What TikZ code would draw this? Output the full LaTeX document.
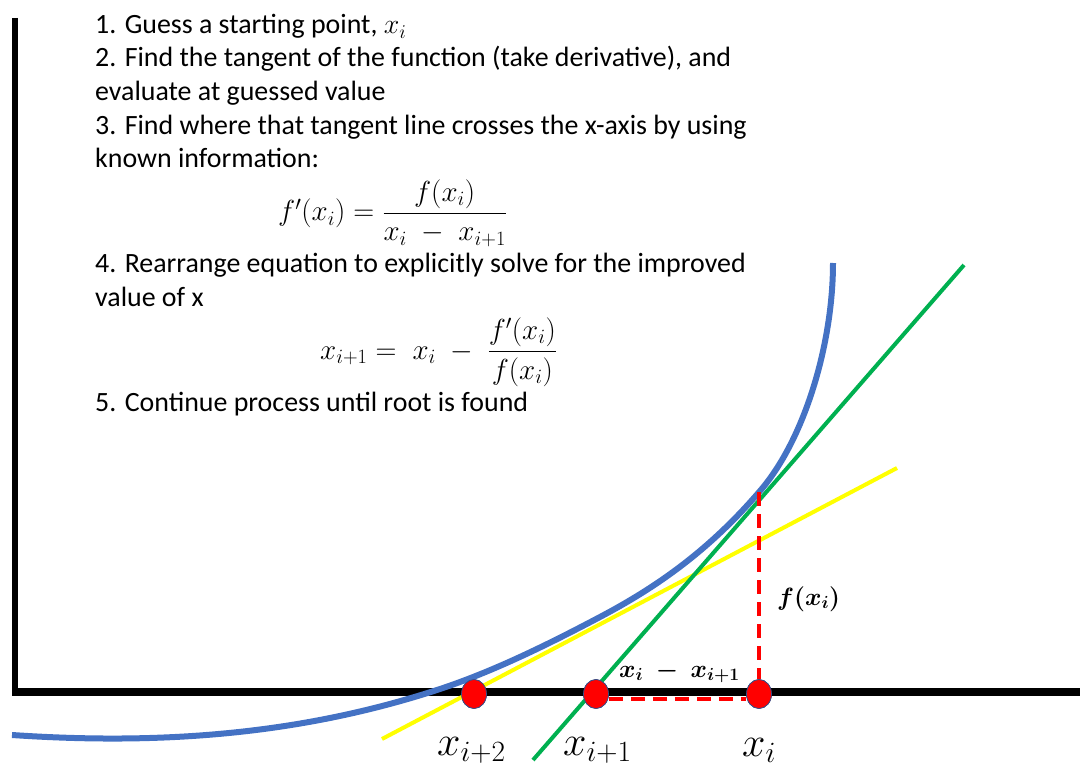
\RequirePackage{fix-cm}
\documentclass[tikz,border=0pt]{standalone}
\usepackage{fontspec}
\setmainfont{Carlito}
\usepackage{amsmath,bm}
\usetikzlibrary{shapes.geometric}
\definecolor{curveblue}{HTML}{4472C4}
\definecolor{tangreen}{HTML}{00B050}
\definecolor{tanyellow}{HTML}{FFFF00}
\definecolor{dotred}{HTML}{FF0000}
\definecolor{dotrim}{HTML}{2F528F}
\begin{document}
\begin{tikzpicture}[x=1pt,y=-1pt,
  txt/.style={anchor=base west, inner sep=0pt, font=\fontsize{27.9}{33}\selectfont},
  eqn/.style={anchor=west, inner sep=0pt, font=\fontsize{29}{35}\selectfont},
  biglbl/.style={anchor=base west, inner sep=0pt, font=\fontsize{42}{50}\selectfont},
  boldlbl/.style={anchor=base west, inner sep=0pt, font=\fontsize{25}{30}\selectfont},
  axisline/.style={draw=black, line width=#1},
  curveline/.style={draw=curveblue, line width=6pt},
  greenline/.style={draw=tangreen, line width=4pt},
  yellowline/.style={draw=tanyellow, line width=4pt},
  reddash/.style={draw=dotred, line width=4.5pt, dash pattern=on 14pt off 8pt},
  rootdot/.style={ellipse, fill=dotred, draw=dotrim, line width=0.7pt, minimum width=25pt, minimum height=29pt, inner sep=0pt}
]
\useasboundingbox (0,0) rectangle (1080,770);

% nodes (dots)
\node[rootdot] (d2) at (474,694) {};
\node[rootdot] (d1) at (596,694) {};
\node[rootdot] (d0) at (759,694) {};

% red dashed horizontal (under axis)
\draw[reddash] ([yshift=-5pt]d1.east) -- ([yshift=-5pt]d0.west);

% axes
\coordinate (vtop) at (15,18);
\coordinate (vbot) at (15,696);
\coordinate (hleft) at (12,692);
\coordinate (hright) at (1080,692);
\draw[axisline=6pt] (vtop) -- (vbot);
\draw[axisline=8pt] (hleft) -- (hright);

% blue curve
\coordinate (c0) at (12,735);
\coordinate (c1) at (440,689);
\coordinate (c2) at (600,617);
\coordinate (c3) at (760,491);
\coordinate (c4) at (833,263);
\draw[curveline] (c0) .. controls (160,745) and (300,735) .. (c1)
  .. controls (493,671.5) and (547,645) .. (c2)
  .. controls (653,589) and (707,553) .. (c3)
  .. controls (805,439) and (833,343) .. (c4);

% tangent lines
\coordinate (yA) at (382,739);
\coordinate (yB) at (897,468);
\draw[yellowline] (yA) -- (yB);
\coordinate (gA) at (533,760);
\coordinate (gB) at (964,265);
\draw[greenline] (gA) -- (gB);

% red dashed vertical
\coordinate (fx) at (759,492);
\draw[reddash] (fx) -- (d0.north);

% redraw dots on top
\node[rootdot] at (d2) {};
\node[rootdot] at (d1) {};
\node[rootdot] at (d0) {};

% text block
\node[txt] (t1) at (95,34) {1. Guess a starting point, $x_i$};
\node[txt] (t2) at (95,67) {2. Find the tangent of the function (take derivative), and};
\node[txt] (t3) at (95,101) {evaluate at guessed value};
\node[txt] (t4) at (95,135) {3. Find where that tangent line crosses the x-axis by using};
\node[txt] (t5) at (95,168) {known information:};
\node[eqn] (e1) at (278,213) {$f'(x_i) = \dfrac{f(x_i)}{x_i \;-\; x_{i+1}}$};
\node[txt] (t6) at (95,273) {4. Rearrange equation to explicitly solve for the improved};
\node[txt] (t7) at (95,307) {value of x};
\node[eqn] (e2) at (320,352) {$x_{i+1} = \;x_i \;-\; \dfrac{f'(x_i)}{f(x_i)}$};
\node[txt] (t8) at (95,411) {5. Continue process until root is found};

% labels
\node[biglbl] (lx2) at (437,755) {$x_{i+2}$};
\node[biglbl] (lx1) at (563,755) {$x_{i+1}$};
\node[biglbl] (lx0) at (742,756) {$x_i$};
\node[boldlbl] (lf) at (777,605) {$\bm{f(x_i)}$};
\node[boldlbl] (ld) at (619,677) {$\bm{x_i \;-\; x_{i+1}}$};
\end{tikzpicture}
\end{document}
